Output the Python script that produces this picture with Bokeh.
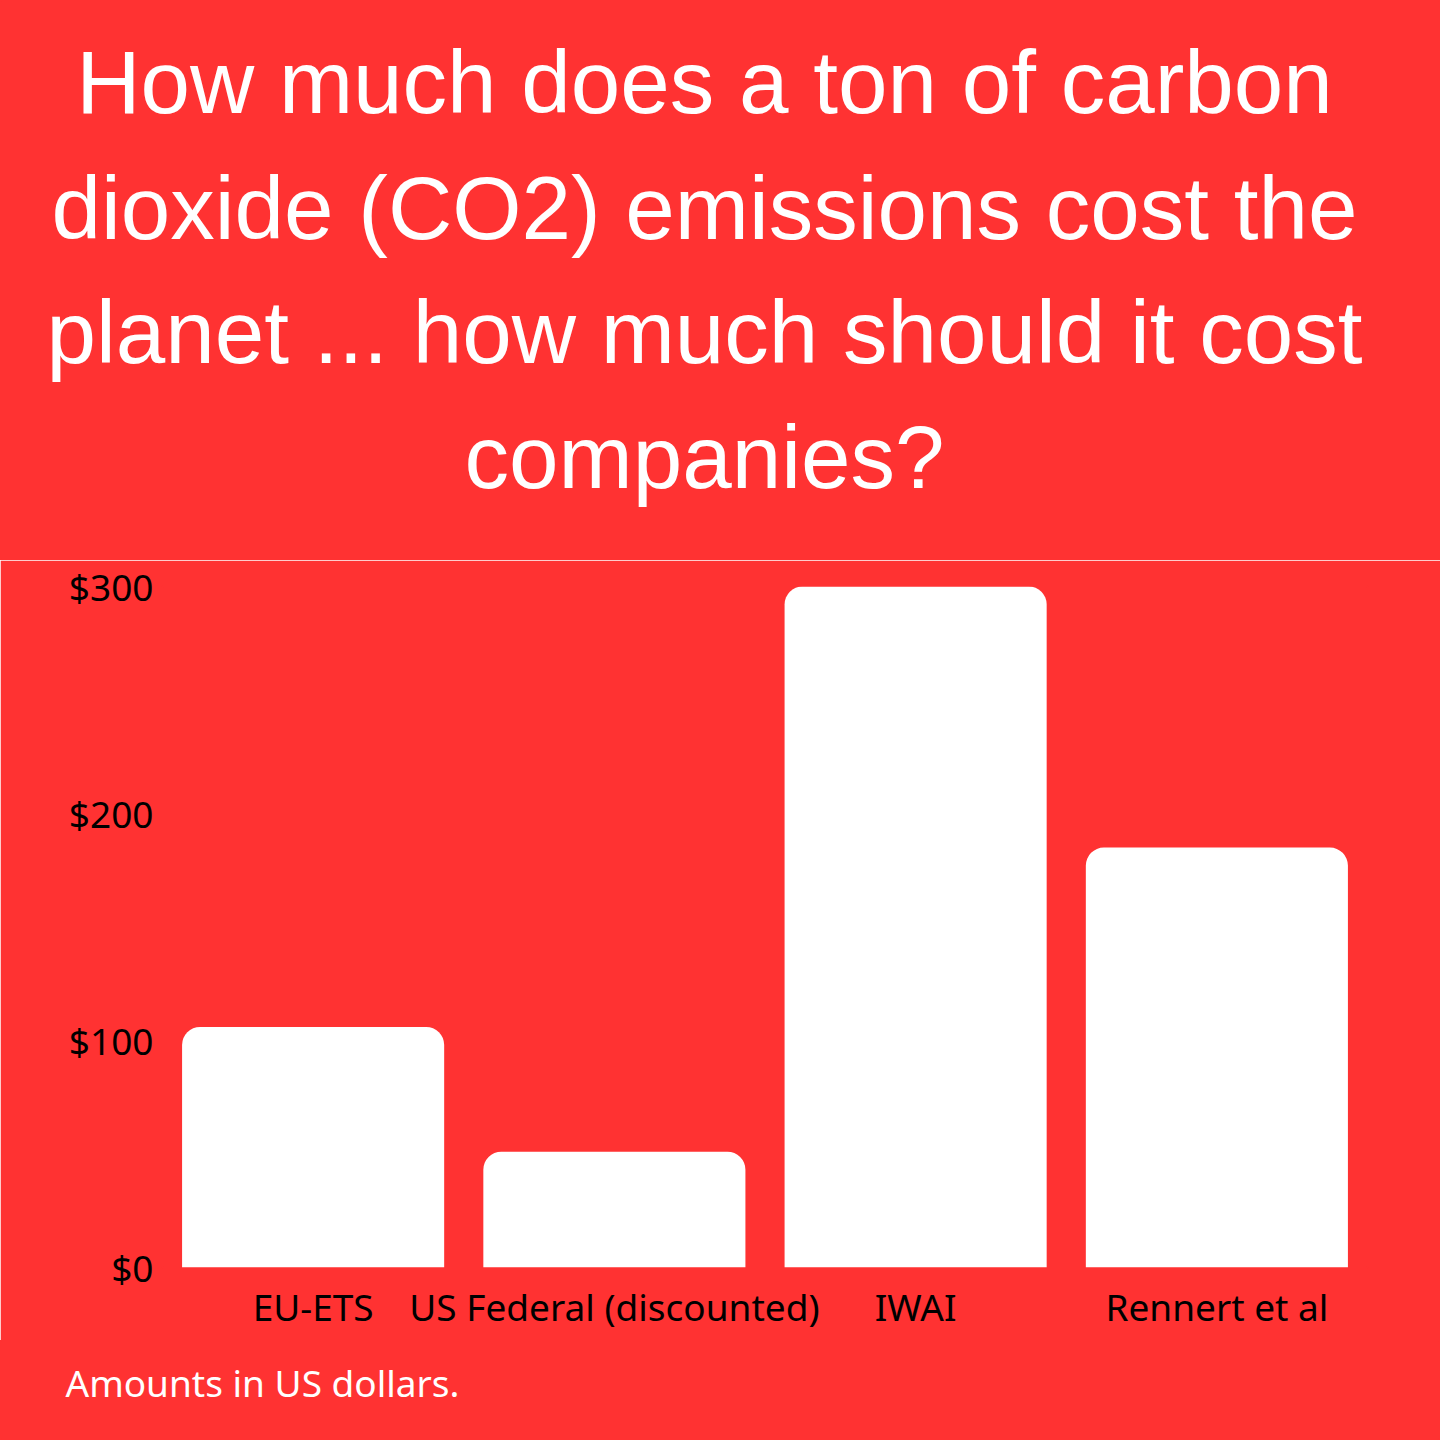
from bokeh.plotting import figure
from bokeh.layouts import column, row
from bokeh.models import FactorRange, Range1d, FixedTicker, NumeralTickFormatter, ColumnDataSource
from bokeh.core.properties import value
from bokeh.embed import file_html
from bokeh.resources import INLINE

categories = ["EU-ETS", "US Federal (discounted)", "IWAI", "Rennert et al"]
values = [106, 51, 300, 185]
y_ticks = [0, 100, 200, 300]
title_lines = [
    "How much does a ton of carbon",
    "dioxide (CO2) emissions cost the",
    "planet ... how much should it cost",
    "companies?",
]
footer = "Amounts in US dollars."

BG = "#ff3232"
W = 1440
TOP_H = 560
MAIN_H = 780
FOOT_H = 1440 - TOP_H - MAIN_H


def text_fig(h):
    f = figure(width=W, height=h, output_backend="svg", toolbar_location=None,
               x_range=Range1d(0, W), y_range=Range1d(h, 0),
               x_axis_location=None, y_axis_location=None,
               min_border=0, background_fill_color=BG, border_fill_color=BG,
               outline_line_color=BG, outline_line_width=2)
    f.grid.visible = False
    return f


# Title block
top = text_fig(TOP_H)
top.text(x=[704] * len(title_lines), y=[81, 207, 331, 456], text=title_lines,
         text_align="center", text_baseline="alphabetic",
         text_font=value("Liberation Sans"), text_font_size="89px", text_color="white")

# Main chart
p = figure(
    width=W, height=MAIN_H, output_backend="svg", toolbar_location=None,
    x_range=FactorRange(*categories, range_padding=0),
    y_range=Range1d(0, 300),
    min_border_left=162, min_border_right=73, min_border_top=26,
    min_border_bottom=MAIN_H - 26 - 681,
    background_fill_color=BG, border_fill_color=BG,
    outline_line_color=BG, outline_line_width=2,
)
p.title.visible = False
src = ColumnDataSource(dict(cat=categories, val=values))
p.vbar(x="cat", top="val", width=0.87, source=src, fill_color="white", line_color=None,
       border_radius=(18, 18, 0, 0))
p.grid.visible = False
for ax in (p.xaxis, p.yaxis):
    ax.axis_line_color = None
    ax.major_tick_line_color = None
    ax.minor_tick_line_color = None
    ax.major_tick_out = 0
    ax.major_tick_in = 0
    ax.major_label_text_font = "Noto Sans"
    ax.major_label_text_font_size = "37px"
    ax.major_label_text_color = "black"
p.yaxis.ticker = FixedTicker(ticks=y_ticks)
p.yaxis.formatter = NumeralTickFormatter(format="$0")
p.yaxis.major_label_standoff = 9
p.xaxis.major_label_standoff = 13

# Footer
foot = text_fig(FOOT_H)
foot.text(x=[65], y=[1381.5 - TOP_H - MAIN_H], text=[footer],
          text_align="left", text_baseline="alphabetic",
          text_font=value("Noto Sans"), text_font_size="37px", text_color="white")

layout = column(row(top), row(p), row(foot), spacing=0)
open("out.html", "w").write(file_html(layout, INLINE))
